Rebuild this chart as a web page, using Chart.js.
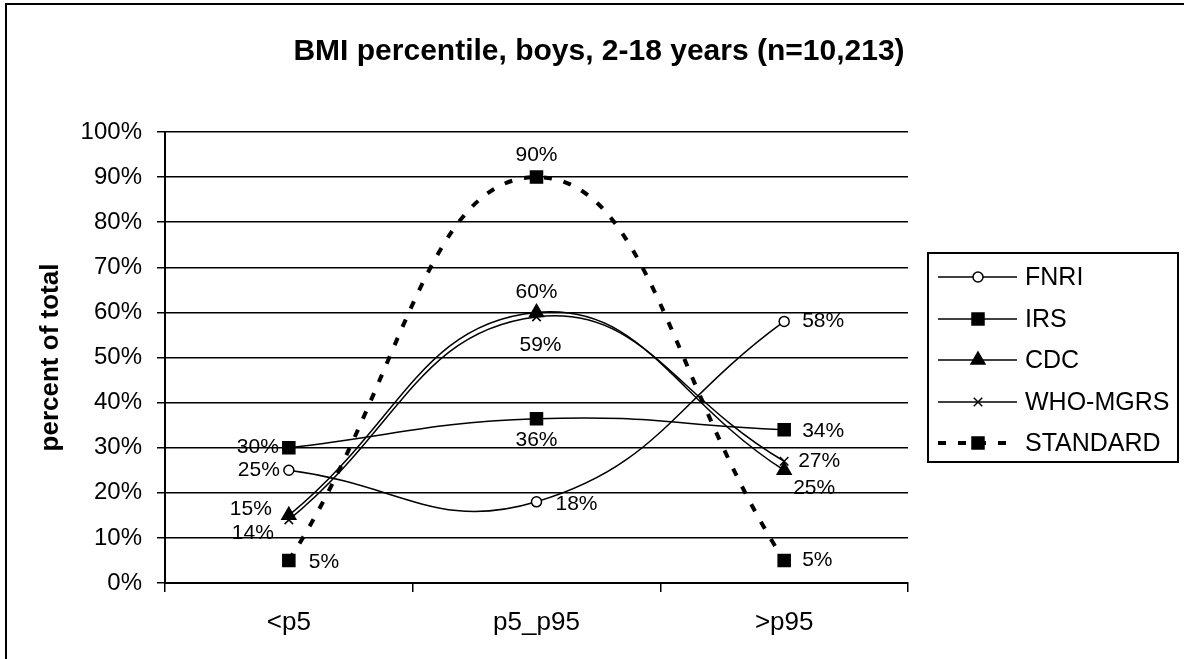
<!DOCTYPE html>
<html>
<head>
<meta charset="utf-8">
<script src="https://cdn.jsdelivr.net/npm/chart.js@4.4.9/dist/chart.umd.min.js"></script>
<style>
  html, body { margin:0; padding:0; background:#fff; }
  #wrap { width:1184px; height:659px; }
</style>
</head>
<body>
<div id="wrap"><canvas id="c" width="1184" height="659"></canvas></div>
<script>
/* data */
const categories = ['<p5', 'p5_p95', '>p95'];
const fnri     = [0.25, 0.18, 0.58];
const irs      = [0.30, 0.364, 0.34];
const cdc      = [0.15, 0.60, 0.25];
const whoMgrs  = [0.14, 0.59, 0.27];
const standard = [0.05, 0.90, 0.05];

const FONT = "'Liberation Sans', Arial, sans-serif";

/* label offsets per point: [dx, dy, align] */
const series = [
  { label:'FNRI', data:fnri, pointStyle:'circle', pointRadius:5, pointBackgroundColor:'#fff',
    lbl:[[-9,0,'right'],[19,2,'left'],[18,0,'left']] },
  { label:'IRS', data:irs, pointStyle:'rect', pointRadius:8.5, pointBackgroundColor:'#000',
    lbl:[[-10,0,'right'],[0,21,'center'],[18,2,'left']] },
  { label:'CDC', data:cdc, pointStyle:'triangle', pointRadius:8, pointBackgroundColor:'#000',
    lbl:[[-17,-6,'right'],[0,-20,'center'],[30,18,'center']] },
  { label:'WHO-MGRS', data:whoMgrs, pointStyle:'crossRot', pointRadius:6, pointBackgroundColor:'#000',
    lbl:[[-15,13,'right'],[4,28,'center'],[14,0,'left']] },
  { label:'STANDARD', data:standard, pointStyle:'rect', pointRadius:8.5, pointBackgroundColor:'#000',
    dashed:true, lbl:[[20,2,'left'],[0,-22,'center'],[18,0,'left']] },
];

const datasets = series.map(s => ({
  label: s.label,
  data: s.data,
  borderColor: '#000',
  borderWidth: s.dashed ? 4 : 1.5,
  borderDash: s.dashed ? [8, 12] : [],
  borderCapStyle: 'butt',
  tension: 0.45,
  fill: false,
  pointStyle: s.pointStyle,
  pointRadius: s.pointRadius,
  pointHoverRadius: s.pointRadius,
  pointBackgroundColor: s.pointBackgroundColor,
  pointBorderColor: '#000',
  pointBorderWidth: 1.5,
  lbl: s.lbl,
  dashed: !!s.dashed
}));

/* data labels */
const pointLabels = {
  id: 'pointLabels',
  afterDatasetsDraw(chart) {
    const ctx = chart.ctx;
    ctx.save();
    ctx.font = `21px ${FONT}`;
    ctx.fillStyle = '#000';
    ctx.textBaseline = 'middle';
    chart.data.datasets.forEach((ds, di) => {
      chart.getDatasetMeta(di).data.forEach((pt, i) => {
        const [dx, dy, al] = ds.lbl[i];
        ctx.textAlign = al;
        ctx.fillText(Math.round(ds.data[i]*100) + '%', pt.x + dx, pt.y + dy);
      });
    });
    ctx.restore();
  }
};

/* boxed legend on the right + frame lines */
const boxLegend = {
  id: 'boxLegend',
  afterDraw(chart) {
    const ctx = chart.ctx;
    ctx.save();
    // frame (left and top only)
    ctx.fillStyle = '#000';
    ctx.fillRect(5, 3, 2, 656);
    ctx.fillRect(5, 3, 1179, 2);

    const bx = 928, by = 253, bw = 250, bh = 209;
    ctx.strokeStyle = '#000';
    ctx.lineWidth = 2;
    ctx.strokeRect(bx, by, bw, bh);

    const rows = [277, 319, 360, 402, 443];
    chart.data.datasets.forEach((ds, i) => {
      const y = rows[i];
      ctx.beginPath();
      ctx.lineWidth = ds.borderWidth;
      ctx.setLineDash(ds.borderDash);
      ctx.lineDashOffset = 0;
      ctx.moveTo(938, y); ctx.lineTo(1017, y);
      ctx.stroke();
      ctx.setLineDash([]);
      ctx.fillStyle = ds.pointBackgroundColor;
      ctx.strokeStyle = '#000';
      ctx.lineWidth = 1.5;
      Chart.helpers.drawPoint(ctx, {
        pointStyle: ds.pointStyle, radius: ds.pointRadius, rotation: 0, borderWidth: 1.5
      }, 978, y);
      ctx.fillStyle = '#000';
      ctx.font = `25px ${FONT}`;
      ctx.textAlign = 'left';
      ctx.textBaseline = 'middle';
      ctx.fillText(ds.label, 1025, y + 1);
    });
    ctx.restore();
  }
};

new Chart(document.getElementById('c'), {
  type: 'line',
  data: { labels: categories, datasets },
  options: {
    responsive: false,
    animation: false,
    devicePixelRatio: 1,
    layout: { padding: { left: 14, right: 0, top: 0, bottom: 0 } },
    plugins: {
      legend: { display: false },
      tooltip: { enabled: false },
      title: {
        display: true,
        text: 'BMI percentile, boys, 2-18 years (n=10,213)',
        color: '#000',
        font: { family: FONT, size: 30, weight: 'bold', lineHeight: 1.2 },
        padding: { top: 34, bottom: 62 }
      }
    },
    scales: {
      x: {
        offset: true,
        grid: { display: true, drawOnChartArea: false, drawTicks: true, tickLength: 9,
                color: '#000', lineWidth: 1.5, offset: true },
        border: { color: '#000', width: 2 },
        ticks: { color: '#000', font: { family: FONT, size: 26 }, padding: 15 },
        afterFit: s => { s.height = 76; }
      },
      y: {
        min: 0, max: 1,
        grid: { color: '#000', lineWidth: 1.5, tickLength: 8 },
        border: { color: '#000', width: 2 },
        ticks: { stepSize: 0.1, color: '#000', font: { family: FONT, size: 24 }, padding: 15,
                 callback: v => Math.round(v*100) + '%' },
        title: { display: true, text: 'percent of total', color: '#000',
                 font: { family: FONT, size: 26, weight: 'bold', lineHeight: 1.2 },
                 padding: { top: 21, bottom: 0 } },
        afterFit: s => { s.width = 151; }
      },
      spare: {
        type: 'linear', position: 'right', display: true,
        grid: { display: false, drawTicks: false }, border: { display: false },
        ticks: { display: false },
        afterFit: s => { s.width = 276; }
      }
    }
  },
  plugins: [pointLabels, boxLegend]
});
</script>
</body>
</html>
